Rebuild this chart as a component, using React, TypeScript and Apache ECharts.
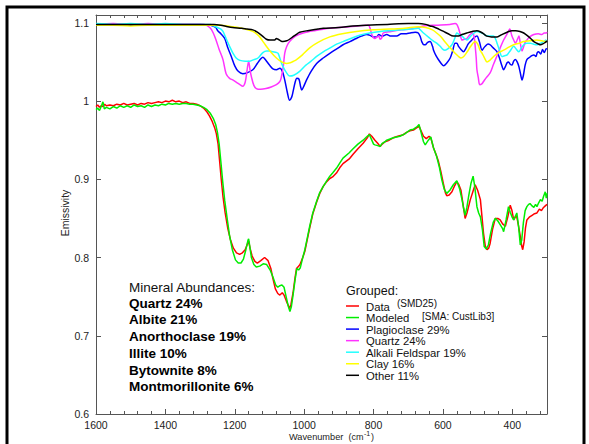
import React, { useEffect, useRef } from "react";
import * as echarts from "echarts";

// ---- Data (wavenumber cm-1, emissivity) ----
const dataMeasured: [number, number][] = [
  [1600,0.993],[1595,0.995],[1590,0.992],[1585,0.994],[1580,0.993],[1575,0.996],[1570,0.994],[1560,0.995],[1550,0.994],[1540,0.996],
  [1530,0.995],[1520,0.997],[1510,0.995],[1500,0.996],[1490,0.997],[1480,0.995],[1470,0.997],[1460,0.996],[1450,0.998],[1440,0.997],
  [1430,0.998],[1420,0.999],[1410,0.998],[1400,1.000],[1390,0.999],[1380,1.001],[1370,0.999],[1360,1.000],[1350,0.998],[1340,0.999],
  [1330,0.997],[1320,0.997],[1310,0.996],[1300,0.994],[1290,0.991],[1280,0.986],[1273,0.981],[1265,0.974],[1258,0.966],[1253,0.958],
  [1248,0.945],[1244,0.925],[1239,0.900],[1234,0.878],[1228,0.858],[1220,0.837],[1212,0.822],[1204,0.812],[1195,0.806],[1186,0.804],
  [1178,0.806],[1170,0.810],[1163,0.818],[1160,0.821],[1156,0.812],[1150,0.802],[1142,0.795],[1135,0.793],[1125,0.796],[1114,0.800],
  [1104,0.796],[1096,0.786],[1090,0.773],[1083,0.760],[1076,0.754],[1070,0.752],[1063,0.755],[1058,0.752],[1051,0.744],[1045,0.738],
  [1042,0.735],[1038,0.740],[1032,0.755],[1026,0.775],[1022,0.786],[1016,0.789],[1012,0.791],[1004,0.800],[998,0.808],[990,0.825],
  [984,0.838],[975,0.856],[964,0.871],[955,0.882],[945,0.891],[935,0.897],[926,0.901],[918,0.903],[907,0.908],[897,0.915],
  [888,0.920],[870,0.926],[859,0.932],[845,0.939],[830,0.946],[818,0.953],[812,0.958],[805,0.955],[796,0.950],[788,0.946],
  [781,0.942],[775,0.945],[767,0.948],[755,0.950],[743,0.953],[730,0.955],[714,0.957],[705,0.960],[695,0.962],[685,0.963],
  [675,0.966],[669,0.968],[663,0.962],[656,0.955],[648,0.952],[640,0.955],[635,0.953],[627,0.940],[620,0.932],[613,0.923],
  [606,0.910],[599,0.895],[593,0.883],[589,0.879],[582,0.880],[574,0.884],[566,0.892],[560,0.897],[554,0.893],[548,0.886],
  [542,0.868],[536,0.850],[530,0.858],[521,0.874],[513,0.885],[507,0.893],[500,0.886],[492,0.874],[487,0.850],[483,0.831],
  [478,0.815],[473,0.810],[468,0.812],[464,0.818],[457,0.836],[449,0.850],[442,0.850],[435,0.848],[428,0.843],[420,0.840],
  [413,0.852],[406,0.867],[401,0.860],[396,0.848],[391,0.852],[387,0.852],[382,0.840],[377,0.827],[373,0.815],[370,0.810],
  [366,0.820],[362,0.838],[358,0.848],[350,0.852],[343,0.854],[336,0.856],[329,0.857],[322,0.862],[316,0.860],[310,0.864],
  [305,0.866],[300,0.868]
];

const dataModeled: [number, number][] = [
  [1600,0.989],[1595,0.991],[1590,0.988],[1585,0.993],[1580,0.999],[1576,0.990],[1570,0.992],[1560,0.990],[1550,0.993],[1540,0.991],
  [1530,0.994],[1520,0.992],[1510,0.994],[1500,0.992],[1490,0.995],[1480,0.993],[1470,0.994],[1460,0.992],[1450,0.995],[1440,0.993],
  [1430,0.995],[1420,0.994],[1410,0.996],[1400,0.995],[1390,0.997],[1380,0.996],[1370,0.997],[1360,0.996],[1350,0.997],[1340,0.997],
  [1330,0.996],[1320,0.996],[1310,0.995],[1300,0.994],[1290,0.992],[1280,0.989],[1270,0.984],[1262,0.978],[1255,0.970],[1250,0.960],
  [1245,0.945],[1240,0.922],[1235,0.898],[1229,0.873],[1222,0.850],[1215,0.828],[1207,0.810],[1198,0.797],[1190,0.793],[1182,0.793],
  [1175,0.798],[1168,0.810],[1162,0.822],[1160,0.824],[1157,0.815],[1152,0.800],[1145,0.791],[1138,0.788],[1128,0.789],[1118,0.792],
  [1108,0.791],[1098,0.784],[1090,0.775],[1082,0.765],[1076,0.762],[1070,0.764],[1064,0.765],[1058,0.762],[1052,0.750],[1046,0.738],
  [1041,0.731],[1037,0.737],[1032,0.752],[1026,0.772],[1021,0.786],[1016,0.784],[1011,0.787],[1004,0.800],[998,0.810],[990,0.827],
  [984,0.840],[975,0.857],[964,0.872],[955,0.883],[945,0.891],[935,0.898],[926,0.904],[918,0.908],[907,0.914],[897,0.921],
  [888,0.927],[870,0.934],[859,0.939],[845,0.945],[830,0.950],[818,0.955],[812,0.957],[805,0.950],[800,0.945],[796,0.944],
  [788,0.943],[781,0.942],[775,0.946],[767,0.948],[762,0.950],[743,0.953],[724,0.955],[710,0.958],[695,0.963],[685,0.964],
  [675,0.967],[669,0.970],[663,0.960],[656,0.948],[651,0.944],[642,0.950],[635,0.954],[627,0.940],[618,0.929],[610,0.915],
  [603,0.899],[596,0.887],[589,0.882],[580,0.886],[570,0.893],[560,0.898],[552,0.888],[545,0.874],[540,0.862],[536,0.854],
  [531,0.864],[526,0.878],[519,0.895],[513,0.904],[508,0.890],[502,0.865],[497,0.857],[492,0.852],[486,0.835],[481,0.814],
  [475,0.811],[469,0.816],[462,0.832],[455,0.845],[449,0.850],[442,0.847],[435,0.842],[428,0.837],[425,0.833],[418,0.848],
  [411,0.865],[406,0.858],[401,0.852],[396,0.848],[391,0.853],[387,0.857],[382,0.840],[377,0.816],[373,0.822],[368,0.845],
  [363,0.860],[358,0.865],[353,0.868],[349,0.869],[343,0.866],[338,0.864],[333,0.868],[329,0.865],[324,0.870],[319,0.874],
  [314,0.872],[310,0.878],[305,0.884],[302,0.876],[300,0.882]
];

const plagioclase: [number, number][] = [
  [1600,1.097],[1550,1.098],[1500,1.097],[1450,1.098],[1400,1.098],[1350,1.098],[1300,1.098],[1270,1.097],[1255,1.094],[1249,1.090],
  [1240,1.086],[1229,1.080],[1220,1.068],[1210,1.057],[1200,1.045],[1190,1.038],[1177,1.035],[1165,1.036],[1148,1.040],[1135,1.048],
  [1125,1.054],[1119,1.056],[1112,1.053],[1100,1.046],[1090,1.041],[1080,1.040],[1070,1.042],[1062,1.037],[1056,1.027],[1048,1.010],
  [1042,1.001],[1036,1.005],[1032,1.012],[1026,1.024],[1021,1.029],[1015,1.028],[1010,1.018],[1007,1.014],[1002,1.018],[993,1.027],
  [980,1.038],[964,1.048],[945,1.055],[926,1.061],[905,1.067],[888,1.072],[868,1.076],[850,1.080],[835,1.083],[820,1.085],
  [810,1.084],[800,1.082],[791,1.082],[785,1.085],[775,1.083],[762,1.085],[750,1.083],[733,1.083],[720,1.086],[705,1.086],
  [695,1.087],[680,1.088],[671,1.087],[665,1.082],[661,1.076],[655,1.072],[651,1.072],[644,1.075],[637,1.076],[630,1.070],
  [627,1.065],[620,1.058],[613,1.053],[605,1.048],[598,1.045],[590,1.048],[579,1.055],[572,1.064],[565,1.074],[560,1.074],
  [555,1.070],[548,1.066],[541,1.063],[533,1.068],[527,1.073],[521,1.076],[510,1.081],[502,1.083],[495,1.076],[487,1.065],
  [482,1.068],[478,1.070],[470,1.073],[464,1.072],[455,1.068],[444,1.063],[437,1.055],[430,1.045],[425,1.040],[420,1.044],
  [415,1.049],[411,1.050],[406,1.047],[401,1.046],[396,1.051],[391,1.053],[386,1.050],[381,1.044],[376,1.034],[372,1.027],
  [368,1.033],[363,1.046],[358,1.053],[350,1.056],[344,1.058],[338,1.059],[332,1.057],[328,1.062],[324,1.063],[318,1.060],
  [313,1.066],[308,1.062],[302,1.067],[300,1.066]
];

const quartz: [number, number][] = [
  [1600,1.098],[1550,1.099],[1500,1.098],[1450,1.099],[1400,1.098],[1350,1.098],[1300,1.098],[1290,1.098],[1282,1.097],[1270,1.093],
  [1262,1.087],[1254,1.078],[1245,1.066],[1234,1.053],[1225,1.035],[1215,1.029],[1206,1.027],[1195,1.024],[1185,1.021],[1177,1.019],
  [1170,1.024],[1165,1.038],[1160,1.051],[1156,1.040],[1152,1.031],[1145,1.020],[1138,1.016],[1125,1.015],[1110,1.016],[1095,1.018],
  [1080,1.021],[1070,1.025],[1066,1.030],[1060,1.045],[1056,1.061],[1050,1.070],[1042,1.076],[1025,1.083],[1003,1.087],[970,1.090],
  [926,1.093],[870,1.095],[815,1.097],[810,1.093],[805,1.085],[800,1.081],[796,1.080],[790,1.082],[785,1.083],[781,1.079],
  [776,1.081],[772,1.087],[750,1.089],[720,1.091],[695,1.092],[670,1.094],[656,1.096],[620,1.097],[580,1.098],[565,1.099],
  [560,1.098],[555,1.093],[550,1.085],[545,1.078],[538,1.079],[531,1.080],[522,1.085],[514,1.087],[510,1.082],[507,1.070],
  [504,1.055],[502,1.040],[498,1.030],[494,1.021],[488,1.022],[483,1.025],[475,1.030],[464,1.036],[455,1.046],[444,1.058],
  [435,1.068],[425,1.078],[415,1.086],[409,1.091],[407,1.092],[404,1.088],[401,1.083],[396,1.078],[391,1.074],[386,1.078],
  [381,1.083],[377,1.074],[372,1.064],[367,1.070],[363,1.075],[358,1.078],[350,1.082],[338,1.085],[325,1.086],[315,1.085],
  [308,1.087],[302,1.087],[300,1.088]
];

const alkaliFeldspar: [number, number][] = [
  [1600,1.099],[1550,1.098],[1500,1.099],[1450,1.098],[1400,1.099],[1350,1.098],[1300,1.098],[1270,1.098],[1260,1.096],[1250,1.094],
  [1240,1.092],[1234,1.089],[1225,1.080],[1215,1.070],[1205,1.061],[1196,1.055],[1185,1.052],[1170,1.051],[1157,1.051],[1145,1.053],
  [1133,1.055],[1119,1.062],[1108,1.064],[1100,1.064],[1090,1.063],[1080,1.062],[1075,1.061],[1068,1.052],[1061,1.044],[1052,1.037],
  [1042,1.032],[1030,1.033],[1013,1.038],[995,1.046],[980,1.051],[964,1.057],[945,1.063],[925,1.068],[905,1.073],[888,1.076],
  [860,1.081],[840,1.084],[811,1.087],[780,1.089],[753,1.090],[720,1.091],[690,1.092],[671,1.093],[665,1.091],[656,1.087],
  [645,1.083],[637,1.080],[628,1.077],[618,1.074],[608,1.070],[600,1.066],[594,1.065],[585,1.067],[574,1.072],[566,1.080],
  [560,1.087],[553,1.085],[545,1.083],[538,1.080],[531,1.078],[520,1.083],[510,1.087],[502,1.089],[495,1.088],[487,1.087],
  [480,1.085],[473,1.083],[463,1.083],[454,1.083],[448,1.079],[444,1.074],[437,1.065],[430,1.057],[422,1.058],[415,1.059],
  [405,1.065],[396,1.070],[388,1.066],[381,1.063],[374,1.068],[367,1.072],[358,1.074],[348,1.074],[340,1.073],[329,1.072],
  [318,1.074],[310,1.076],[302,1.078],[300,1.078]
];

const clay: [number, number][] = [
  [1600,1.097],[1550,1.097],[1500,1.096],[1450,1.097],[1400,1.097],[1350,1.097],[1300,1.097],[1260,1.097],[1240,1.097],[1220,1.096],
  [1206,1.095],[1190,1.094],[1170,1.092],[1148,1.089],[1130,1.083],[1120,1.077],[1109,1.070],[1095,1.062],[1080,1.055],[1065,1.050],
  [1051,1.048],[1040,1.049],[1030,1.051],[1022,1.053],[1005,1.059],[984,1.068],[960,1.075],[926,1.082],[890,1.086],[849,1.089],
  [800,1.091],[753,1.092],[710,1.093],[671,1.095],[650,1.094],[630,1.091],[618,1.087],[605,1.082],[595,1.076],[579,1.068],
  [565,1.061],[555,1.057],[548,1.055],[540,1.057],[530,1.063],[520,1.070],[507,1.076],[500,1.073],[493,1.065],[487,1.061],
  [480,1.055],[473,1.050],[465,1.052],[454,1.057],[440,1.062],[425,1.065],[410,1.069],[396,1.072],[380,1.074],[367,1.076],
  [350,1.077],[329,1.078],[315,1.077],[302,1.076],[300,1.076]
];

const other: [number, number][] = [
  [1600,1.098],[1550,1.098],[1500,1.098],[1450,1.098],[1400,1.098],[1350,1.098],[1300,1.098],[1260,1.098],[1240,1.097],[1220,1.095],
  [1206,1.094],[1180,1.093],[1165,1.092],[1148,1.091],[1135,1.088],[1120,1.083],[1109,1.079],[1098,1.078],[1085,1.078],[1080,1.080],
  [1075,1.079],[1068,1.077],[1061,1.076],[1050,1.077],[1042,1.079],[1030,1.083],[1020,1.086],[1013,1.088],[990,1.090],[960,1.092],
  [945,1.093],[900,1.094],[860,1.096],[820,1.097],[760,1.098],[700,1.099],[671,1.099],[650,1.098],[637,1.096],[627,1.095],
  [612,1.092],[598,1.089],[585,1.086],[570,1.083],[555,1.083],[545,1.085],[531,1.087],[515,1.089],[502,1.090],[490,1.088],
  [480,1.085],[473,1.083],[460,1.082],[444,1.082],[430,1.085],[415,1.088],[401,1.090],[390,1.090],[378,1.089],[367,1.087],
  [355,1.083],[345,1.079],[338,1.076],[330,1.074],[325,1.073],[319,1.072],[312,1.073],[305,1.075],[302,1.076],[300,1.077]
];

const legendNames = ["Data", "Modeled", "Plagioclase 29%", "Quartz 24%", "Alkali Feldspar 19%", "Clay 16%", "Other 11%"];
const legendColors = ["#ff0000", "#00ee00", "#0000ff", "#ff33ff", "#22ffff", "#ffff00", "#000000"];
const abundanceLines = ["Quartz 24%", "Albite 21%", "Anorthoclase 19%", "Illite 10%", "Bytownite 8%", "Montmorillonite 6%"];

const FONT = "'Liberation Sans', Arial, Helvetica, sans-serif";

export default function App() {
  const ref = useRef<HTMLDivElement>(null);
  useEffect(() => {
    if (!ref.current) return;
    const chart = echarts.init(ref.current, undefined, { renderer: "svg" });
    const axisLineStyle = { color: "#555", width: 1 };
    const xBase = {
      type: "value",
      min: 300,
      max: 1600,
      inverse: true,
      splitNumber: 6,
      minInterval: 200,
      maxInterval: 200,
      splitLine: { show: false },
      axisLine: { show: true, lineStyle: axisLineStyle },
      axisTick: { show: true, inside: true, length: 5, lineStyle: axisLineStyle },
      minorTick: { show: true, splitNumber: 5, length: 3, lineStyle: axisLineStyle },
    };
    const yBase = {
      type: "value",
      min: 0.6,
      max: 1.11,
      interval: 0.1,
      splitLine: { show: false },
      axisLine: { show: true, lineStyle: axisLineStyle },
      axisTick: { show: true, inside: true, length: 5, lineStyle: axisLineStyle },
    };
    const seriesData = [plagioclase, quartz, alkaliFeldspar, clay, other];
    const compSeries = seriesData.map((d, i) => ({
      name: legendNames[i + 2],
      type: "line",
      data: d,
      showSymbol: false,
      smooth: 0.3,
      lineStyle: { color: legendColors[i + 2], width: 1.5 },
      z: 2,
    }));
    const graphics: any[] = [
      { type: "rect", shape: { x: 7, y: 7, width: 577, height: 460 }, style: { fill: "none", stroke: "#000", lineWidth: 3 }, silent: true, z: 100 },
      { type: "text", x: 65, y: 213, rotation: Math.PI / 2, style: { text: "Emissivity", font: `10.5px ${FONT}`, fill: "#222", align: "center", verticalAlign: "middle" } },
      { type: "text", x: 289, y: 437, style: { text: "Wavenumber", font: `9.2px ${FONT}`, fill: "#222", align: "left", verticalAlign: "middle" } },
      { type: "text", x: 348.5, y: 436.5, style: { text: "(cm", font: `9px ${FONT}`, fill: "#222", align: "left", verticalAlign: "middle" } },
      { type: "text", x: 364, y: 433.5, style: { text: "-1", font: `7px ${FONT}`, fill: "#222", align: "left", verticalAlign: "middle" } },
      { type: "text", x: 371, y: 436.5, style: { text: ")", font: `9px ${FONT}`, fill: "#222", align: "left", verticalAlign: "middle" } },
      { type: "text", x: 129, y: 287, style: { text: "Mineral Abundances:", font: `13.5px ${FONT}`, fill: "#111", align: "left", verticalAlign: "middle" } },
      { type: "text", x: 346, y: 291, style: { text: "Grouped:", font: `12.5px ${FONT}`, fill: "#111", align: "left", verticalAlign: "middle" } },
      { type: "text", x: 397, y: 303.5, style: { text: "(SMD25)", font: `10px ${FONT}`, fill: "#111", align: "left", verticalAlign: "middle" } },
      { type: "text", x: 422, y: 316.5, style: { text: "[SMA: CustLib3]", font: `10px ${FONT}`, fill: "#111", align: "left", verticalAlign: "middle" } },
    ];
    abundanceLines.forEach((t, i) => {
      graphics.push({ type: "text", x: 129, y: 303 + i * 16.75, style: { text: t, font: `bold 13.5px ${FONT}`, fill: "#000", align: "left", verticalAlign: "middle" } });
    });
    legendNames.forEach((t, i) => {
      const y = 306 + i * 11.55;
      graphics.push({ type: "line", shape: { x1: 346, y1: y, x2: 359, y2: y }, style: { stroke: legendColors[i], lineWidth: 1.5 } });
      graphics.push({ type: "text", x: 366, y: y + 0.5, style: { text: t, font: `11.3px ${FONT}`, fill: "#111", align: "left", verticalAlign: "middle" } });
    });

    chart.setOption({
      animation: false,
      backgroundColor: "#fff",
      grid: { left: 96, top: 15, right: 42, bottom: 30, containLabel: false },
      xAxis: [
        { ...xBase, position: "bottom", axisLabel: { show: true, margin: 5, color: "#222", fontSize: 10.5, fontFamily: FONT, formatter: (v: number) => (Math.round(v) % 200 === 0 ? String(Math.round(v)) : "") } },
        { ...xBase, position: "top", axisLabel: { show: false } },
      ],
      yAxis: [
        { ...yBase, position: "left", axisLabel: { show: true, margin: 7, color: "#222", fontSize: 10.5, fontFamily: FONT, formatter: (v: number) => (Math.abs(v * 10 - Math.round(v * 10)) < 1e-6 ? String(Math.round(v * 10) / 10) : "") } },
        { ...yBase, position: "right", axisLabel: { show: false } },
      ],
      series: [
        ...compSeries,
        { name: "Data", type: "line", data: dataMeasured, showSymbol: false, lineStyle: { color: legendColors[0], width: 1.5 }, z: 3 },
        { name: "Modeled", type: "line", data: dataModeled, showSymbol: false, lineStyle: { color: legendColors[1], width: 1.5 }, z: 4 },
      ],
      graphic: graphics,
    });
    return () => chart.dispose();
  }, []);
  return <div ref={ref} style={{ position: "absolute", left: 0, top: 0, width: 589, height: 444 }} />;
}
